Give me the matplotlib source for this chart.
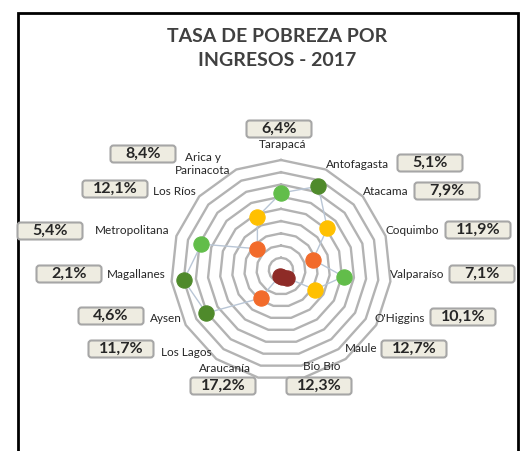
import numpy as np
import matplotlib
matplotlib.use("Agg")
import matplotlib.pyplot as plt
from matplotlib.patches import FancyBboxPatch, Rectangle
from matplotlib.transforms import IdentityTransform

plt.rcParams["font.family"] = ["Lato", "DejaVu Sans"]

# ---------------------------------------------------------------------------
# Data (clockwise from the top)
# ---------------------------------------------------------------------------
regions = ["Tarapacá", "Antofagasta", "Atacama", "Coquimbo", "Valparaíso",
           "O'Higgins", "Maule", "Bío Bío", "Araucanía", "Los Lagos",
           "Aysen", "Magallanes", "Metropolitana", "Los Ríos",
           "Arica y\nParinacota"]
rate_labels = ["6,4%", "5,1%", "7,9%", "11,9%", "7,1%",
               "10,1%", "12,7%", "12,3%", "17,2%", "11,7%",
               "4,6%", "2,1%", "5,4%", "12,1%", "8,4%"]
# position of each marker on the (reversed) radial scale
plot_values = [5.4, 3.0, 7.8, 12.5, 7.7,
               11.6, 16.4, 16.9, 17.0, 12.3,
               3.9, 2.0, 4.3, 12.8, 8.5]
quintile = [1, 0, 2, 3, 1,
            2, 4, 4, 4, 3,
            0, 0, 1, 3, 2]
quintile_colors = ["#4f8a2b", "#62bd4a", "#ffc000", "#f26b2b", "#8e2b27"]

ring_levels = np.arange(0, 18, 2)   # 9 rings
r_max = 18

# label / box placements in image pixels (x, y from top-left)
name_pos = [(283, 144), (358, 165), (386, 191), (412, 231), (417, 274),
            (400, 318), (361, 349), (322, 367), (225, 368), (186, 352),
            (166, 318), (136, 275), (132, 231), (174, 191), (203, 164)]
box_pos = [(279, 129), (430, 163), (447, 191), (478, 230), (482, 274),
           (463, 317), (414, 349), (319, 386), (223, 386), (121, 349),
           (111, 316), (69, 274), (50, 231), (115, 189), (143, 154)]

W, H = 524, 451

# ---------------------------------------------------------------------------
# Figure
# ---------------------------------------------------------------------------
fig = plt.figure(figsize=(W / 100, H / 100), dpi=100)

# outer chart frame
fig.add_artist(Rectangle((18, H - 460), 500, 447, transform=IdentityTransform(),
                         fill=False, ec="black", lw=2))

cx, cy, R = 281, 270, 110
ax = fig.add_axes([(cx - R) / W, (H - cy - R) / H, 2 * R / W, 2 * R / H],
                  projection="polar")
ax.set_theta_zero_location("N")
ax.set_theta_direction(-1)
ax.set_ylim(r_max, 0)
ax.axis("off")

n = len(regions)
theta = np.arange(n) * 2 * np.pi / n
theta_closed = np.append(theta, theta[0])

for lvl in ring_levels:
    ax.plot(theta_closed, [lvl] * (n + 1), color="#b3b3b3", lw=1.7,
            zorder=1, clip_on=False)

vals_closed = plot_values + plot_values[:1]
ax.plot(theta_closed, vals_closed, color="#b9c6d6", lw=1.0, zorder=2,
        clip_on=False)

for t, v, q in zip(theta, plot_values, quintile):
    ax.plot(t, v, "o", ms=11, color=quintile_colors[q],
            mec=quintile_colors[q], mew=0.8, zorder=3, clip_on=False)

# ---------------------------------------------------------------------------
# Labels and value boxes
# ---------------------------------------------------------------------------
def fx(x):
    return x / W


def fy(y):
    return 1 - y / H


for name, (x, y) in zip(regions, name_pos):
    fig.text(fx(x), fy(y), name, ha="center", va="center", fontsize=8.5,
             color="#262626", linespacing=1.2)

bw, bh = 65, 17
for lab, (x, y) in zip(rate_labels, box_pos):
    fig.add_artist(FancyBboxPatch((x - bw / 2, H - y - bh / 2), bw, bh,
                                  boxstyle="round,pad=0,rounding_size=3",
                                  transform=IdentityTransform(),
                                  fc="#eeece1", ec="#a6a6a6", lw=1.5))
    fig.text(fx(x), fy(y), lab, ha="center", va="center", fontsize=11.5,
             fontweight="bold", color="#262626")

fig.text(fx(277), fy(36), "TASA DE POBREZA POR", ha="center", va="center",
         fontsize=14, fontweight="bold", color="#404040")
fig.text(fx(277), fy(61), "INGRESOS - 2017", ha="center", va="center",
         fontsize=14, fontweight="bold", color="#404040")

fig.savefig("out.png", dpi=100)
